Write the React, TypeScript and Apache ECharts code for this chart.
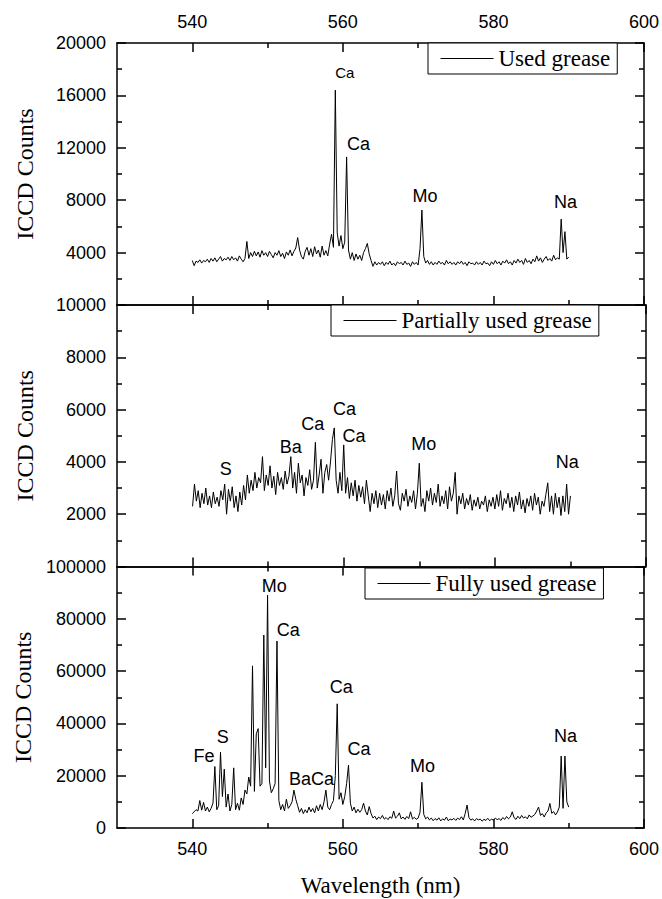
import React, { useEffect, useRef } from "react";
import * as echarts from "echarts";

// Wavelength sampling grid (nm)
const WL_START = 540;
const WL_STEP = 0.25;

const seriesNames = ["Used grease", "Partially used grease", "Fully used grease"];

// ICCD counts, 540.00 ... 590.00 nm in 0.25 nm steps
const usedGrease = [
  3400, 3000, 3350, 3250, 3450, 3200, 3400, 3300, 3500, 3250,
  3550, 3350, 3600, 3300, 3500, 3700, 3350, 3550, 3450, 3650,
  3400, 3700, 3450, 3600, 3350, 3750, 3500, 3300, 3550, 4850,
  3550, 4000, 3700, 4100, 3750, 4050, 3650, 4150, 3800, 4000,
  3700, 4100, 3850, 3600, 4000, 3800, 4150, 3700, 3950, 3550,
  4050, 3800, 4200, 3750, 4100, 4350, 5150, 4200, 3700, 3500,
  4100, 4400, 3800, 4300, 3700, 4450, 3900, 4200, 3650, 4500,
  3800, 4150, 3750, 4650, 5400, 4400, 16400, 5500, 4500, 5300,
  4300, 4800, 11300, 4200, 3500, 4000, 3400, 3900, 3500, 3800,
  3400, 4000, 4300, 4700, 3900, 3400, 2950, 3300, 3050, 3250,
  3100, 3300, 3000, 3250, 3100, 3350, 3050, 3200, 3000, 3300,
  3150, 3250, 3050, 3350, 3100, 3200, 2950, 3300, 3100, 3250,
  3050, 4300, 7250, 3700, 3200, 3400, 3100, 3300, 3050, 3250,
  3100, 3350, 3150, 3250, 3050, 3400, 3150, 3300, 3100, 3250,
  3050, 3300, 3150, 3350, 3100, 3250, 3000, 3300, 3150, 3200,
  3050, 3300, 3100, 3250, 3050, 3350, 3150, 3200, 3000, 3300,
  3100, 3400, 3150, 3300, 3050, 3350, 3200, 3450, 3150, 3300,
  3050, 3400, 3200, 3500, 3250, 3400, 3100, 3550, 3250, 3400,
  3150, 3500, 3300, 3750, 3350, 3600, 3250, 3500, 3700, 3400,
  3550, 3350, 3800, 3450, 3600, 3500, 6550, 4000, 5600, 3500,
  3650,
];

const partiallyUsedGrease = [
  2300, 3150, 2500, 2900, 2250, 2800, 2400, 3000, 2350, 2700,
  2250, 2850, 2400, 2650, 2300, 2900, 2550, 3150, 2000, 2950,
  2500, 3050, 2250, 2700, 2100, 2850, 2350, 3100, 2550, 3500,
  2800, 3300, 2900, 3600, 3000, 3400, 3200, 4200, 2900, 3500,
  3100, 3850, 3000, 3450, 2750, 3600, 3100, 3400, 2950, 3650,
  3150, 3450, 4200, 3000, 3600, 2800, 3950, 3200, 3500, 2700,
  3400, 3100, 3700, 2950, 3300, 4750, 3000, 3500, 4100, 2800,
  3600, 3900, 3300, 4000, 4850, 5300, 3300, 2800, 3600, 2900,
  4650, 2800, 3400, 2600, 3200, 2700, 3300, 2500, 3100, 2650,
  3050, 2400, 3300, 2700, 2100, 2800, 2400, 2900, 2250, 2800,
  2350, 2750, 2200, 2900, 2500, 3000, 2300, 2700, 3650, 2400,
  2150, 2800, 2500, 2950, 2300, 2700, 2450, 2900, 2200, 2800,
  3950, 2300, 2600, 2100, 2900, 2500, 3000, 2350, 2800, 2450,
  3150, 2300, 2700, 2400, 2900, 2200, 3050, 2500, 2800, 3600,
  2000, 2700, 2400, 2800, 2200, 2600, 2350, 2750, 2150, 2550,
  2300, 2650, 2200, 2500, 2350, 2700, 2100, 2550, 2300, 2650,
  2200, 2750, 2300, 2900, 2150, 2600, 2400, 2800, 2250, 2650,
  2100, 2700, 2350, 2850, 2200, 2550, 2050, 2600, 2300, 2700,
  2150, 2800, 2350, 2650, 2000, 2500, 2300, 2750, 3200, 2100,
  2700, 2000, 2800, 2250, 2650, 1950, 2700, 2100, 3150, 2000,
  2700,
];

const fullyUsedGrease = [
  5500, 6200, 7000, 6500, 10500, 6800, 9800, 6500, 8000, 6200,
  7500, 9500, 23500, 7000, 8500, 29000, 12000, 22500, 8000, 13000,
  6500, 9000, 23000, 7000, 9500, 6800, 11500, 9000, 14500, 13000,
  19500, 16000, 62000, 14000, 36000, 38000, 16000, 17000, 73800, 23000,
  89000, 18000, 13500, 15000, 17000, 71500, 10500, 7000, 9000, 6500,
  11000, 7500, 8500, 10000, 14500, 11000, 8500, 6000, 7500, 5500,
  7000, 5800, 8000, 6200, 7500, 5800, 8500, 6500, 9000, 7000,
  10000, 14500, 8000, 7000, 9000, 10500, 20000, 47500, 11000, 13500,
  9000, 12000, 17000, 24000, 9500, 6500, 8000, 5800, 7200, 6000,
  7000, 9500, 6500, 5000, 8200, 5500, 3800, 4500, 3200, 4200,
  3600, 4800, 3400, 4000, 3200, 4300, 3700, 6500, 3800, 4500,
  5800, 3500, 4200, 3300, 4400, 3600, 6200, 3400, 4100, 3300,
  3800, 6000, 17500, 5200, 3500, 4200, 3100, 3800, 2800, 3600,
  3000, 3900, 2700, 3500, 3000, 4200, 2800, 3400, 3100, 3700,
  2900, 3800, 3200, 4300, 3100, 5500, 8800, 4000, 3000, 3500,
  2700, 3600, 3100, 3400, 2600, 3300, 2900, 3700, 2800, 3400,
  3000, 3800, 3200, 3600, 2900, 4000, 3300, 4400, 3500, 4200,
  6200, 3900, 3300, 4500, 3600, 4800, 3800, 4300, 3500, 5000,
  4100, 4600, 5200, 6500, 8000, 4800, 5500, 4200, 5800, 6500,
  9400, 5600, 6300, 5000, 6100, 8000, 27500, 7500, 27500, 10000,
  8000,
];

// Axis tick values
const xMajorTicks = [540, 560, 580, 600];
const xMinorTicks = [550, 570, 590];
const yMaxes = [20000, 10000, 100000];
const yIntervals = [4000, 2000, 20000];

// Peak annotations: [element, wavelength (nm), counts]
const usedPeaks: [string, number, number][] = [
  ["Ca", 560.27, 17750],
  ["Ca", 562.09, 12300],
  ["Mo", 570.9, 8330],
  ["Na", 589.58, 7860],
];
const partiallyUsedPeaks: [string, number, number][] = [
  ["S", 544.4, 3740],
  ["Ba", 553.0, 4580],
  ["Ca", 555.9, 5460],
  ["Ca", 560.1, 6030],
  ["Ca", 561.35, 4980],
  ["Mo", 570.6, 4690],
  ["Na", 589.58, 3980],
];
const fullyUsedPeaks: [string, number, number][] = [
  ["Fe", 541.55, 27650],
  ["S", 544.05, 34900],
  ["Mo", 550.9, 92700],
  ["Ca", 552.75, 75600],
  ["BaCa", 555.85, 18740],
  ["Ca", 559.8, 53900],
  ["Ca", 562.14, 30300],
  ["Mo", 570.57, 23600],
  ["Na", 589.58, 35060],
];

const seriesValues = [usedGrease, partiallyUsedGrease, fullyUsedGrease];
const seriesPeaks = [usedPeaks, partiallyUsedPeaks, fullyUsedPeaks];

// Layout
const GRID_LEFT = 117;
const GRID_WIDTH = 529;
const GRID_TOPS = [43, 305, 566.5];
const GRID_HEIGHTS = [262, 261.5, 261.5];
const LEGEND_LEFTS = [428, 331, 365];
const LEGEND_TOPS = [43, 305, 568];

const SANS = "'Liberation Sans', Arial, sans-serif";
const SERIF = "'Liberation Serif', 'Times New Roman', serif";
const BLACK = "#000";

function buildOption() {
  const grid = GRID_TOPS.map((top, g) => ({
    left: GRID_LEFT,
    width: GRID_WIDTH,
    top,
    height: GRID_HEIGHTS[g],
  }));

  const axisLineStyle = { color: BLACK, width: 1.5 };
  const xAxis: any[] = [];
  const yAxis: any[] = [];

  for (let g = 0; g < 3; g++) {
    const base = {
      gridIndex: g,
      type: "value",
      min: 530,
      max: 600,
      splitLine: { show: false },
      axisPointer: { show: false },
    };
    // bottom major (data axis)
    xAxis.push({
      ...base,
      position: "bottom",
      axisLine: { show: true, onZero: false, lineStyle: axisLineStyle },
      axisTick: { show: true, inside: true, length: 9, customValues: xMajorTicks, lineStyle: axisLineStyle },
      axisLabel: {
        show: g === 2,
        customValues: xMajorTicks,
        margin: 12,
        fontSize: 18,
        fontFamily: SANS,
        color: BLACK,
      },
      name: g === 2 ? "Wavelength (nm)" : "",
      nameLocation: "middle",
      nameGap: 46,
      nameTextStyle: { fontFamily: SERIF, fontSize: 23, color: BLACK },
    });
    // top major
    xAxis.push({
      ...base,
      position: "top",
      axisLine: { show: true, onZero: false, lineStyle: axisLineStyle },
      axisTick: { show: true, inside: true, length: 9, customValues: xMajorTicks, lineStyle: axisLineStyle },
      axisLabel: {
        show: g === 0,
        customValues: xMajorTicks,
        margin: 12,
        fontSize: 18,
        fontFamily: SANS,
        color: BLACK,
      },
    });
    // bottom minor
    xAxis.push({
      ...base,
      position: "bottom",
      axisLine: { show: false, onZero: false },
      axisTick: { show: true, inside: true, length: 5, customValues: xMinorTicks, lineStyle: axisLineStyle },
      axisLabel: { show: false },
    });
    // top minor
    xAxis.push({
      ...base,
      position: "top",
      axisLine: { show: false, onZero: false },
      axisTick: { show: true, inside: true, length: 5, customValues: xMinorTicks, lineStyle: axisLineStyle },
      axisLabel: { show: false },
    });

    const yBase = {
      gridIndex: g,
      type: "value",
      min: 0,
      max: yMaxes[g],
      interval: yIntervals[g],
      splitLine: { show: false },
      minorSplitLine: { show: false },
      axisLine: { show: true, onZero: false, lineStyle: axisLineStyle },
      axisTick: { show: true, inside: true, length: 9, lineStyle: axisLineStyle },
      minorTick: { show: true, splitNumber: 2, length: 5, lineStyle: axisLineStyle },
    };
    yAxis.push({
      ...yBase,
      position: "left",
      axisLabel: {
        show: true,
        showMinLabel: g === 2,
        margin: 11,
        fontSize: 18,
        fontFamily: SANS,
        color: BLACK,
        formatter: (v: number) => String(v),
      },
      name: "ICCD Counts",
      nameLocation: "middle",
      nameRotate: 90,
      nameGap: 80,
      nameTextStyle: { fontFamily: SERIF, fontSize: 24, color: BLACK },
    });
    yAxis.push({
      ...yBase,
      position: "right",
      axisLabel: { show: false },
    });
  }

  const series = seriesValues.map((vals, g) => ({
    name: seriesNames[g],
    type: "line",
    xAxisIndex: g * 4,
    yAxisIndex: g * 2,
    symbol: "none",
    lineStyle: { color: BLACK, width: 1 },
    itemStyle: { color: BLACK },
    data: vals.map((v, i) => [WL_START + i * WL_STEP, v]),
    markPoint: {
      silent: true,
      symbol: "circle",
      symbolSize: 1,
      itemStyle: { color: "transparent" },
      label: {
        show: true,
        position: "inside",
        formatter: "{b}",
        color: BLACK,
        fontFamily: SANS,
        fontSize: 18,
      },
      data: seriesPeaks[g].map(([name, wl, counts], k) => ({
        name,
        coord: [wl, counts],
        label: g === 0 && k === 0 ? { fontSize: 15 } : {},
      })),
    },
  }));

  const legend = seriesNames.map((n, g) => ({
    data: [n],
    left: LEGEND_LEFTS[g],
    top: LEGEND_TOPS[g],
    orient: "horizontal",
    itemWidth: 53,
    itemHeight: 14,
    padding: [4, 7, 4, 12],
    borderColor: BLACK,
    borderWidth: 1,
    backgroundColor: "#fff",
    selectedMode: false,
    itemStyle: { opacity: 0 },
    lineStyle: { color: BLACK, width: 1 },
    textStyle: { fontFamily: SERIF, fontSize: 23, color: BLACK },
  }));

  return {
    animation: false,
    backgroundColor: "#fff",
    grid,
    xAxis,
    yAxis,
    legend,
    series,
  };
}

export default function App() {
  const ref = useRef<HTMLDivElement>(null);
  useEffect(() => {
    if (!ref.current) return;
    const chart = echarts.init(ref.current, undefined, { renderer: "svg" });
    chart.setOption(buildOption() as any);
    return () => chart.dispose();
  }, []);
  return (
    <div
      ref={ref}
      style={{ position: "absolute", left: 0, top: 0, width: 662, height: 899, background: "#fff" }}
    />
  );
}
